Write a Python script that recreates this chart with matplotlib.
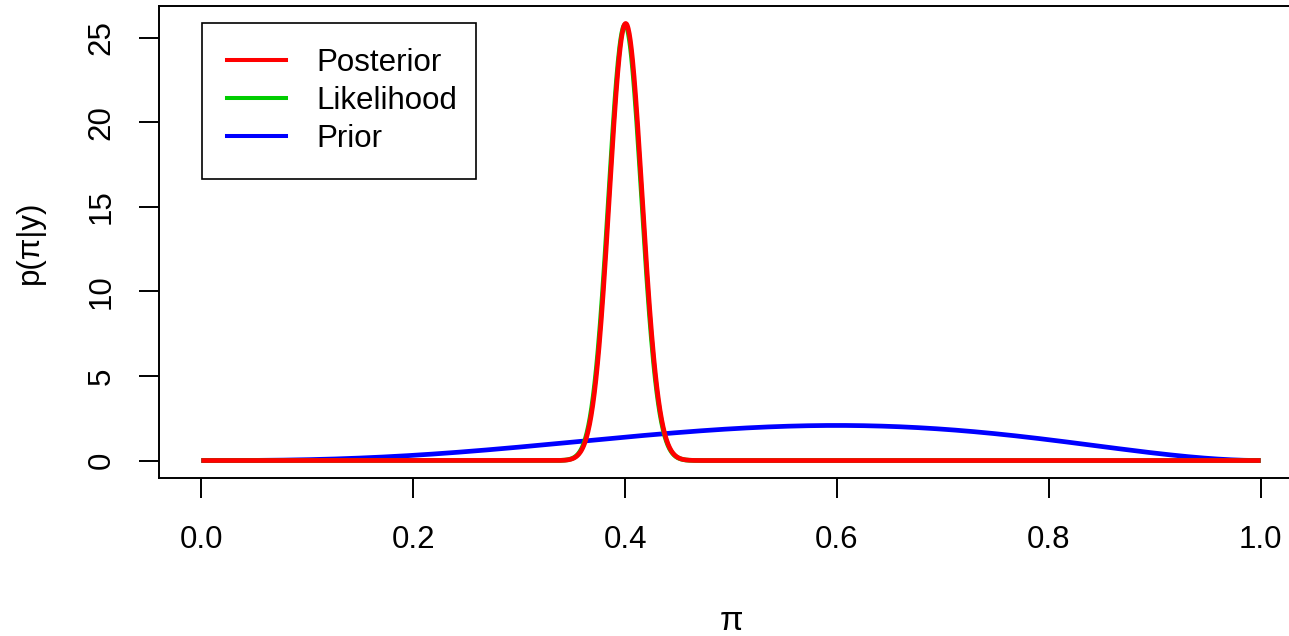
import math
import numpy as np
import matplotlib
matplotlib.use("Agg")
import matplotlib.pyplot as plt

# Beta(a, b) parameters of the three densities
prior_ab = (4, 3)
likelihood_ab = (401, 601)
posterior_ab = (404, 604)

series_labels = ["Posterior", "Likelihood", "Prior"]
series_colors = ["#FF0000", "#00CD00", "#0000FF"]

x_ticks = [0.0, 0.2, 0.4, 0.6, 0.8, 1.0]
x_ticklabels = ["0.0", "0.2", "0.4", "0.6", "0.8", "1.0"]
y_ticks = [0, 5, 10, 15, 20, 25]
y_ticklabels = ["0", "5", "10", "15", "20", "25"]

grid = np.linspace(0.0, 1.0, 2001)


def beta_pdf(x, a, b):
    logc = math.lgamma(a + b) - math.lgamma(a) - math.lgamma(b)
    with np.errstate(divide="ignore"):
        lx = np.where(x > 0, np.log(np.clip(x, 1e-300, None)), -np.inf)
        l1x = np.where(x < 1, np.log(np.clip(1 - x, 1e-300, None)), -np.inf)
        logp = logc + (a - 1) * lx + (b - 1) * l1x
    return np.exp(logp)


prior = beta_pdf(grid, *prior_ab)
likelihood = beta_pdf(grid, *likelihood_ab)
posterior = beta_pdf(grid, *posterior_ab)

plt.rcParams["font.family"] = ["Liberation Sans", "DejaVu Sans"]

W, H, DPI = 1289, 636, 100
fig = plt.figure(figsize=(W / DPI, H / DPI), dpi=DPI)
fig.patch.set_facecolor("white")

# plot region in pixels (right edge runs past the figure)
L, R, T, B = 159, 1303, 6, 478
ax = fig.add_axes([L / W, (H - B) / H, (R - L) / W, (B - T) / H])

ymax = max(prior.max(), likelihood.max(), posterior.max())
pad_x = 0.04 * 1.0
ax.set_xlim(0 - pad_x, 1 + pad_x)
ax.set_ylim(-0.04 * ymax, ymax * 1.04)

lw = 3.4
ax.plot(grid, prior, color=series_colors[2], lw=lw, solid_capstyle="butt")
ax.plot(grid, likelihood, color=series_colors[1], lw=lw, solid_capstyle="butt")
ax.plot(grid, posterior, color=series_colors[0], lw=lw, solid_capstyle="butt")

for s in ax.spines.values():
    s.set_linewidth(1.4)
    s.set_color("black")

fs = 22.5
ax.set_xticks(x_ticks)
ax.set_xticklabels(x_ticklabels)
ax.set_yticks(y_ticks)
ax.set_yticklabels(y_ticklabels, rotation=90, va="center")
ax.tick_params(axis="both", length=14.5, width=1.4, labelsize=fs, color="black")
ax.tick_params(axis="x", pad=19)
ax.tick_params(axis="y", pad=16)

fig.text(731 / W, 1 - 622 / H, "π", ha="center", va="center", fontsize=fs + 2)
fig.text(30 / W, 1 - 242 / H, "p(π|y)", ha="center", va="center",
         rotation=90, fontsize=fs)

# legend box
handles = [plt.Line2D([], [], color=c, lw=2.9) for c in series_colors]
lx0, ly0, lx1, ly1 = 202, 23, 476, 177
leg = fig.legend(handles, series_labels,
                 bbox_to_anchor=(lx0 / W, 1 - ly1 / H, (lx1 - lx0) / W, (ly1 - ly0) / H),
                 loc="upper left", mode="expand", borderaxespad=0,
                 fontsize=fs, handlelength=1.9, handletextpad=0.95,
                 borderpad=0.8, labelspacing=0.26, fancybox=False,
                 framealpha=1, edgecolor="black")
leg.get_frame().set_linewidth(1.2)

fig.savefig("out.png", dpi=DPI, facecolor="white")
